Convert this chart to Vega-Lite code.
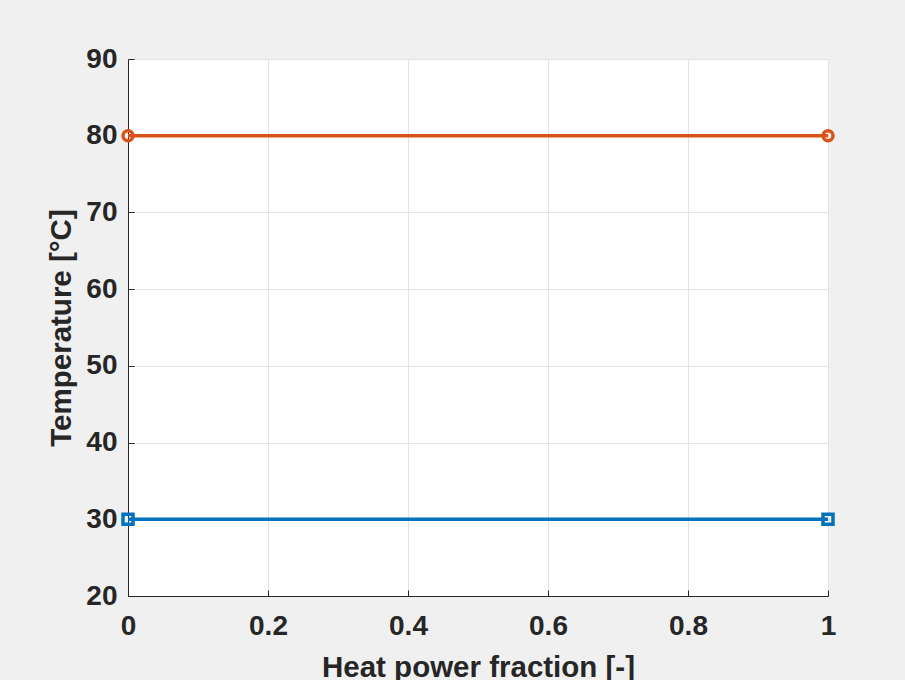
{
  "$schema": "https://vega.github.io/schema/vega-lite/v6.json",
  "width": 700,
  "height": 537,
  "autosize": {"type": "none"},
  "padding": {"left": 128, "top": 59, "right": 77, "bottom": 84},
  "background": "#f0f0f0",
  "config": {
    "view": {"fill": "white", "stroke": null},
    "font": "Liberation Sans",
    "axis": {
      "labelFont": "Liberation Sans",
      "labelFontSize": 28,
      "labelFontWeight": "bold",
      "labelColor": "#262626",
      "titleFont": "Liberation Sans",
      "titleFontSize": 29.5,
      "titleFontWeight": "bold",
      "titleColor": "#262626",
      "domainColor": "#262626",
      "domainWidth": 1,
      "tickColor": "#262626",
      "tickSize": -6,
      "gridColor": "#e3e3e3",
      "gridWidth": 1
    }
  },
  "data": {
    "values": [
      {"fraction": 0, "temp": 80, "series": "hot"},
      {"fraction": 1, "temp": 80, "series": "hot"},
      {"fraction": 0, "temp": 30, "series": "cold"},
      {"fraction": 1, "temp": 30, "series": "cold"}
    ]
  },
  "encoding": {
    "x": {
      "field": "fraction",
      "type": "quantitative",
      "scale": {"domain": [0, 1], "nice": false},
      "axis": {"values": [0, 0.2, 0.4, 0.6, 0.8, 1], "title": "Heat power fraction [-]", "labelPadding": 22, "titlePadding": 13, "format": "~g", "labelFlush": false}
    },
    "y": {
      "field": "temp",
      "type": "quantitative",
      "scale": {"domain": [20, 90], "nice": false, "zero": false},
      "axis": {"values": [20, 30, 40, 50, 60, 70, 80, 90], "title": "Temperature [°C]", "labelPadding": 17, "titlePadding": 9, "labelFlush": false}
    },
    "color": {
      "field": "series",
      "type": "nominal",
      "scale": {"domain": ["hot", "cold"], "range": ["#D95319", "#0072BD"]},
      "legend": null
    }
  },
  "layer": [
    {"mark": {"type": "line", "strokeWidth": 3.5}},
    {
      "mark": {"type": "point", "filled": false, "strokeWidth": 3.5, "size": 100, "opacity": 1},
      "encoding": {
        "shape": {"field": "series", "type": "nominal", "scale": {"domain": ["hot", "cold"], "range": ["circle", "square"]}, "legend": null}
      }
    }
  ]
}
